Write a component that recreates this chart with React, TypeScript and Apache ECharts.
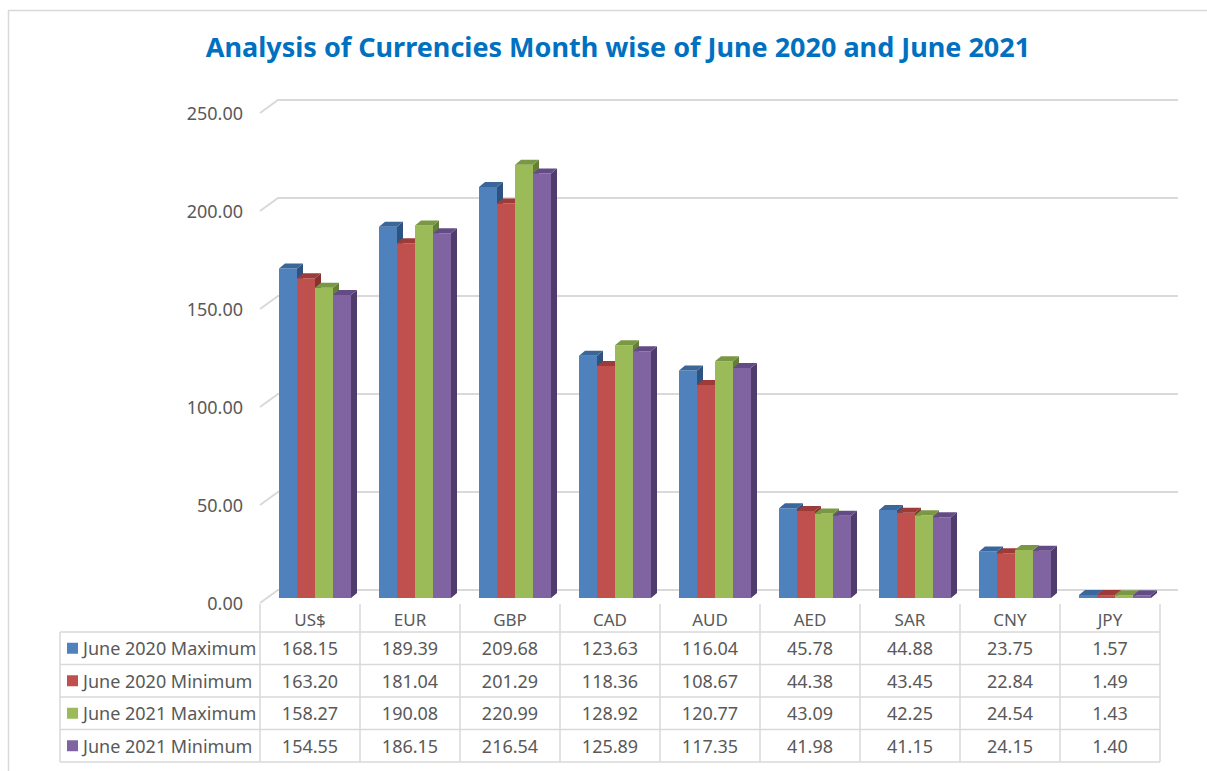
import React, { useEffect, useRef } from "react";
import * as echarts from "echarts";

const categories = ["US$", "EUR", "GBP", "CAD", "AUD", "AED", "SAR", "CNY", "JPY"];
const seriesNames = ["June 2020 Maximum", "June 2020 Minimum", "June 2021 Maximum", "June 2021 Minimum"];
const jun2020Max = [168.15, 189.39, 209.68, 123.63, 116.04, 45.78, 44.88, 23.75, 1.57];
const jun2020Min = [163.2, 181.04, 201.29, 118.36, 108.67, 44.38, 43.45, 22.84, 1.49];
const jun2021Max = [158.27, 190.08, 220.99, 128.92, 120.77, 43.09, 42.25, 24.54, 1.43];
const jun2021Min = [154.55, 186.15, 216.54, 125.89, 117.35, 41.98, 41.15, 24.15, 1.4];
const yTicks = [0, 50, 100, 150, 200, 250];

const seriesValues = [jun2020Max, jun2020Min, jun2021Max, jun2021Min];
const frontColors = ["#4F81BD", "#C0504D", "#9BBB59", "#8064A2"];
const topColors = ["#3B6699", "#9C3B38", "#7A9843", "#634C85"];
const sideColors = ["#2F5380", "#853331", "#657F37", "#4F3C6C"];

const FONT = "'Noto Sans', 'Open Sans', sans-serif";
const TXT = "#595959";
const GRIDC = "#D9D9D9";

export default function App() {
  const ref = useRef<HTMLDivElement>(null);
  useEffect(() => {
    document.body.style.margin = "0";
    const chart = echarts.init(ref.current!, null, { renderer: "svg" });
    const BW = 18, DX = 6, DY = 5, OFFX = 0, OFFY = 5;
    const series: any[] = seriesValues.map((vals, s) => ({
      type: "custom",
      name: seriesNames[s],
      z: 5,
      data: vals.map((v, i) => [i, v]),
      renderItem: (params: any, api: any) => {
        const idx = api.value(0);
        const val = api.value(1);
        const p0 = api.coord([idx, 0]);
        const p1 = api.coord([idx, val]);
        const x = p0[0] - 31 + s * BW + OFFX;
        const yb = p0[1] - OFFY;
        const yt = p1[1] - OFFY;
        return {
          type: "group",
          children: [
            {
              type: "polygon",
              shape: { points: [[x + BW, yt], [x + BW + DX, yt - DY], [x + BW + DX, yb - DY], [x + BW, yb]] },
              style: { fill: sideColors[s] },
            },
            {
              type: "rect",
              shape: { x, y: yt, width: BW, height: yb - yt },
              style: { fill: frontColors[s] },
            },
            {
              type: "polygon",
              shape: { points: [[x, yt], [x + DX, yt - DY], [x + BW + DX, yt - DY], [x + BW, yt]] },
              style: { fill: topColors[s] },
            },
          ],
        };
      },
    }));

    chart.setOption({
      animation: false,
      backgroundColor: "#ffffff",
      title: {
        text: "Analysis of Currencies Month wise of June 2020 and June 2021",
        left: 613,
        textAlign: "center",
        top: 28,
        textStyle: { color: "#0070C0", fontSize: 27, fontWeight: "bold", fontFamily: FONT },
      },
      grid: { left: 260, right: 47, top: 113, bottom: 168 },
      xAxis: {
        type: "category",
        data: categories,
        axisLine: { show: false },
        axisTick: { show: false },
        axisLabel: { color: TXT, fontSize: 17, fontFamily: FONT, margin: 8 },
      },
      yAxis: {
        type: "value",
        min: 0,
        max: 250,
        interval: 50,
        splitLine: { show: false },
        axisLine: { show: false },
        axisTick: { show: false },
        axisLabel: { color: TXT, fontSize: 18, fontFamily: FONT, margin: 17, formatter: (v: number) => v.toFixed(2) },
      },
      series,
    });

    // Build 3D gridlines and the data table from the axes' scales
    const g: any[] = [];
    g.push({
      type: "rect",
      z: -20,
      shape: { x: 8.5, y: 10.5, width: 1220, height: 780 },
      style: { fill: "none", stroke: "#D9D9D9", lineWidth: 1.5 },
    });
    const BACKX = 18, BACKY = 13;
    const xLeft = chart.convertToPixel({ xAxisIndex: 0 }, 0) - 50;
    const xRight = chart.convertToPixel({ xAxisIndex: 0 }, categories.length - 1) + 50;
    yTicks.forEach((t) => {
      const y = chart.convertToPixel({ yAxisIndex: 0 }, t);
      g.push({
        type: "polyline",
        z: -10,
        shape: { points: [[xLeft, y], [xLeft + BACKX, y - BACKY], [xRight + BACKX, y - BACKY]] },
        style: { stroke: GRIDC, lineWidth: 2, fill: "none" },
      });
    });
    const y0 = chart.convertToPixel({ yAxisIndex: 0 }, 0);
    const rowTop = 632;
    const rowH = 32.5;
    const tableLeft = 60;
    const tableBottom = rowTop + rowH * seriesNames.length;
    const lineStyle = { stroke: GRIDC, lineWidth: 1.5 };
    for (let r = 0; r <= seriesNames.length; r++) {
      const y = rowTop + r * rowH;
      g.push({ type: "line", z: -5, shape: { x1: tableLeft, y1: y, x2: xRight, y2: y }, style: lineStyle });
    }
    g.push({ type: "line", z: -5, shape: { x1: tableLeft, y1: rowTop, x2: tableLeft, y2: tableBottom }, style: lineStyle });
    for (let c = 0; c <= categories.length; c++) {
      const x = xLeft + c * 100;
      g.push({ type: "line", z: -5, shape: { x1: x, y1: y0 + 1, x2: x, y2: tableBottom }, style: lineStyle });
    }
    seriesNames.forEach((name, r) => {
      const yc = rowTop + r * rowH + rowH / 2;
      g.push({ type: "rect", shape: { x: 67, y: yc - 5.5, width: 11, height: 11 }, style: { fill: frontColors[r] } });
      g.push({
        type: "text",
        x: 83,
        y: yc,
        style: { text: name, fill: TXT, font: `18px ${FONT}`, textVerticalAlign: "middle" },
      });
      seriesValues[r].forEach((v, i) => {
        const xc = chart.convertToPixel({ xAxisIndex: 0 }, i);
        g.push({
          type: "text",
          x: xc,
          y: yc,
          style: { text: v.toFixed(2), fill: TXT, font: `18px ${FONT}`, textAlign: "center", textVerticalAlign: "middle" },
        });
      });
    });
    chart.setOption({ graphic: { elements: g } });

    return () => chart.dispose();
  }, []);
  return <div ref={ref} style={{ width: 1207, height: 771 }} />;
}
